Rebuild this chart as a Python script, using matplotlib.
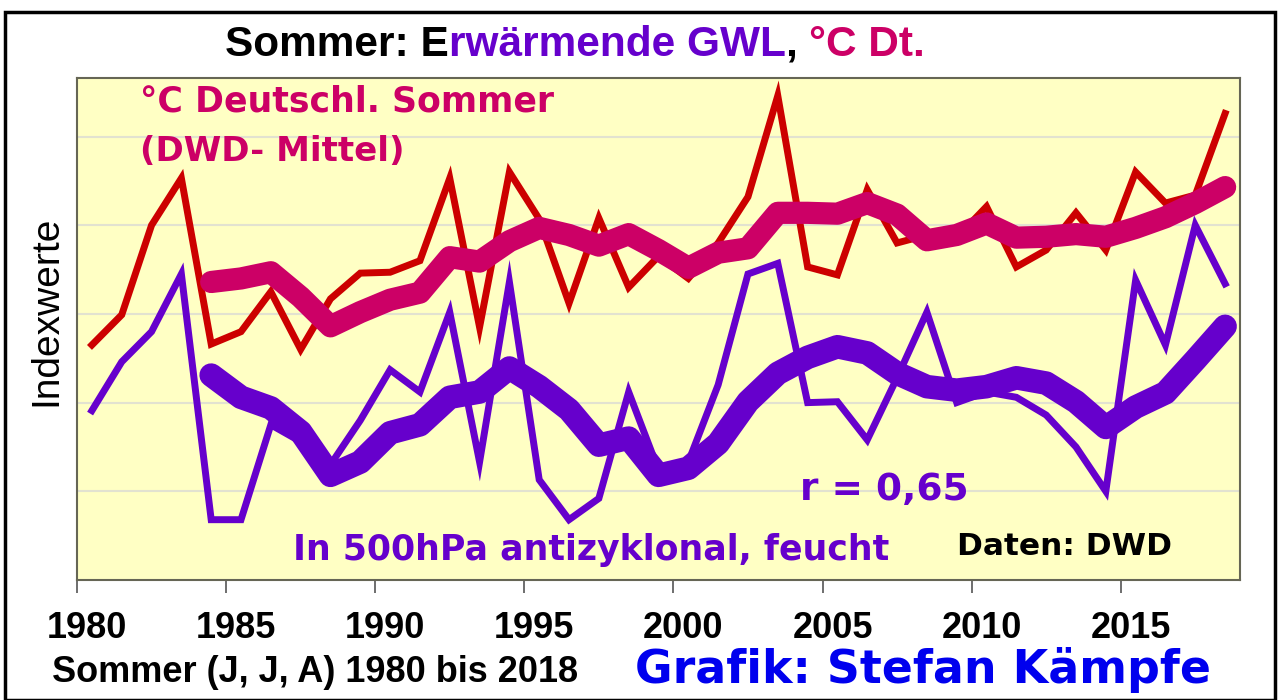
import matplotlib
matplotlib.use("Agg")
import matplotlib.pyplot as plt
import matplotlib.transforms as mtransforms
from matplotlib.patches import Rectangle

plt.rcParams['font.family'] = ['Liberation Sans', 'DejaVu Sans']

# Jahre
years = list(range(1980, 2019))
years_avg = list(range(1984, 2019))

# °C Deutschland Sommer (Indexwerte, Einzeljahre)
temp = [2.65, 2.99, 4.00, 4.53, 2.66, 2.80, 3.25, 2.60, 3.17, 3.46,
        3.47, 3.60, 4.53, 2.85, 4.60, 4.07, 3.12, 4.08, 3.30, 3.65,
        3.40, 3.80, 4.32, 5.46, 3.53, 3.44, 4.40, 3.80, 3.89, 3.86,
        4.21, 3.53, 3.72, 4.14, 3.72, 4.60, 4.25, 4.34, 5.26]

# gleitendes Mittel Temperatur (ab 1984)
temp_avg = [3.36, 3.40, 3.47, 3.19, 2.86, 3.02, 3.16, 3.24, 3.64, 3.59,
            3.82, 3.97, 3.89, 3.77, 3.90, 3.72, 3.52, 3.69, 3.74, 4.14,
            4.14, 4.13, 4.25, 4.12, 3.83, 3.89, 4.02, 3.86, 3.87, 3.90,
            3.87, 3.97, 4.09, 4.25, 4.43]

# GWL antizyklonal feucht (Einzeljahre)
gwl = [1.91, 2.46, 2.80, 3.45, 0.68, 0.68, 1.75, 1.56, 1.30, 1.80,
       2.37, 2.12, 3.02, 1.33, 3.36, 1.13, 0.68, 0.92, 2.12, 1.24,
       1.33, 2.20, 3.45, 3.57, 2.00, 2.01, 1.58, 2.28, 3.02, 2.00,
       2.12, 2.06, 1.86, 1.50, 1.00, 3.38, 2.65, 4.00, 3.34]

# gleitendes Mittel GWL (ab 1984)
gwl_avg = [2.31, 2.06, 1.94, 1.67, 1.18, 1.33, 1.66, 1.75, 2.06, 2.12,
           2.39, 2.18, 1.92, 1.52, 1.60, 1.18, 1.26, 1.54, 2.01, 2.33,
           2.51, 2.63, 2.56, 2.33, 2.18, 2.14, 2.18, 2.28, 2.22, 2.01,
           1.72, 1.95, 2.11, 2.48, 2.86]

tick_years = [1980, 1985, 1990, 1995, 2000, 2005, 2010, 2015]

RED = '#cc0000'
MAG = '#cc0066'
PUR = '#6600cc'
HEAVY = ['DejaVu Sans']

fig = plt.figure(figsize=(12.8, 7), dpi=100)
fig.patch.set_facecolor('white')
fig.patches.append(Rectangle((5 / 1280, 0), 1270 / 1280, 688 / 700, transform=fig.transFigure,
                             fill=False, edgecolor='black', linewidth=2.5))

ax = fig.add_axes([77 / 1280, 120 / 700, 1163 / 1280, 502 / 700])
ax.set_facecolor('#ffffc4')

ax.plot(years, temp, color=RED, lw=5, solid_joinstyle='miter', zorder=3)
ax.plot(years, gwl, color=PUR, lw=5, solid_joinstyle='miter', zorder=3)
ax.plot(years_avg, temp_avg, color=MAG, lw=16, solid_capstyle='round',
        solid_joinstyle='round', zorder=4)
ax.plot(years_avg, gwl_avg, color=PUR, lw=17, solid_capstyle='round',
        solid_joinstyle='round', zorder=4)

ax.set_xlim(1979.5, 2018.5)
ax.set_ylim(0, 5.66)
ax.set_yticks([1, 2, 3, 4, 5])
ax.yaxis.grid(True, color='#e2e2d0', lw=1.5, zorder=0)
ax.tick_params(axis='y', left=False, labelleft=False)
ax.set_xticks([y - 0.5 for y in tick_years])
ax.set_xticklabels([str(y) for y in tick_years], fontsize=26, fontweight='bold')
ax.tick_params(axis='x', direction='out', length=9, width=1.2, color='#555555', pad=13)
# Jahreszahlen etwas nach rechts versetzt wie im Original
shift = mtransforms.ScaledTranslation(10 / 100, 0, fig.dpi_scale_trans)
for lab in ax.get_xticklabels():
    lab.set_transform(lab.get_transform() + shift)
for s in ax.spines.values():
    s.set_color('#666655')
    s.set_linewidth(1.5)

ax.text(-0.026, 0.536, 'Indexwerte', transform=ax.transAxes, fontsize=28,
        rotation=90, ha='center', va='center')

# Texte im Diagramm
ax.text(0.054, 0.953, '°C Deutschl. Sommer', transform=ax.transAxes, color=MAG,
        fontsize=25, fontweight='bold', family=HEAVY, va='center')
ax.text(0.054, 0.853, '(DWD- Mittel)', transform=ax.transAxes, color=MAG,
        fontsize=24.5, fontweight='bold', family=HEAVY, va='center')
ax.text(0.622, 0.18, 'r = 0,65', transform=ax.transAxes, color=PUR,
        fontsize=27, fontweight='bold', family=HEAVY, va='center')
ax.text(0.186, 0.06, 'In 500hPa antizyklonal, feucht', transform=ax.transAxes, color=PUR,
        fontsize=25, fontweight='bold', family=HEAVY, va='center')
ax.text(0.757, 0.066, 'Daten: DWD', transform=ax.transAxes, color='black',
        fontsize=22.5, fontweight='bold', family=HEAVY, va='center')

# Titel in mehreren Farben
fig.canvas.draw()
renderer = fig.canvas.get_renderer()
pieces = [('Sommer: E', 'black'), ('rwärmende GWL', PUR), (', ', 'black'), ('°C Dt.', MAG)]
x = 225 / 1280
for txt, col in pieces:
    t = fig.text(x, 655 / 700, txt, color=col, fontsize=30.5, fontweight='bold', va='center')
    bb = t.get_window_extent(renderer)
    x = bb.x1 / fig.bbox.width

fig.text(52 / 1280, 28 / 700, 'Sommer (J, J, A) 1980 bis 2018', fontsize=26,
         fontweight='bold', va='center')
fig.text(635 / 1280, 30 / 700, 'Grafik: Stefan Kämpfe', color='#0000ee', fontsize=33,
         fontweight='bold', family=HEAVY, va='center')

fig.savefig('out.png', dpi=100)
